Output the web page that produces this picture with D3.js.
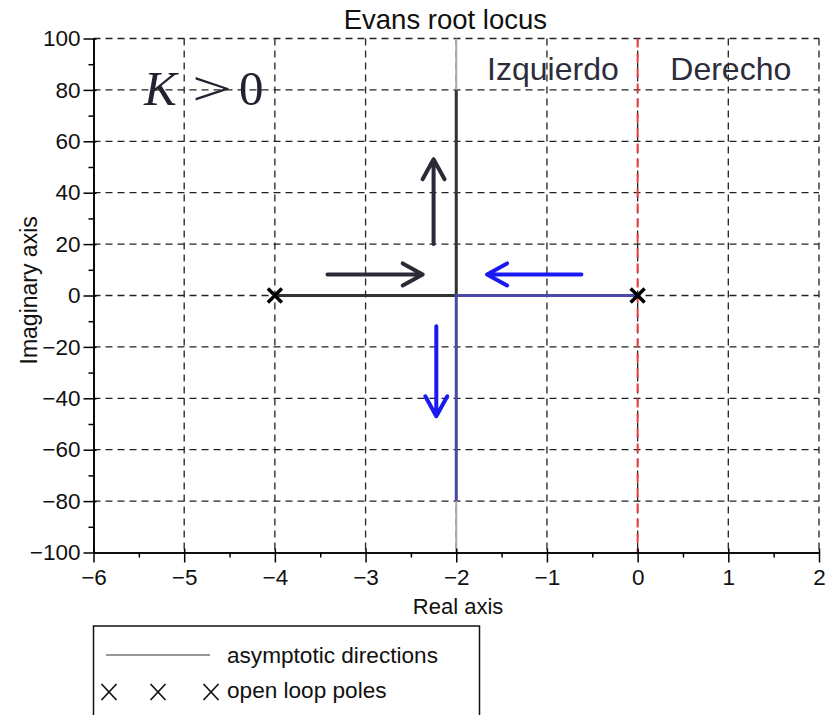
<!DOCTYPE html>
<html><head><meta charset="utf-8">
<script src="https://cdn.jsdelivr.net/npm/d3@7"></script>
<style>body{margin:0;background:#fff;} svg{display:block;font-family:"Liberation Sans",Arial,sans-serif;}</style>
</head><body>
<svg id="chart" width="836" height="715"></svg>
<script>
// ---- data ----
const xDomain = [-6, 2];
const yDomain = [-100, 100];
const xMajorTicks = [-6, -5, -4, -3, -2, -1, 0, 1, 2];
const xMinorTicks = [-5.5, -4.5, -3.5, -2.5, -1.5, -0.5, 0.5, 1.5];
const yMajorTicks = [-100, -80, -60, -40, -20, 0, 20, 40, 60, 80, 100];
const yMinorTicks = [-90, -70, -50, -30, -10, 10, 30, 50, 70, 90];
const openLoopPoles = [[-4, 0], [0, 0]];
const asymptotes = [[[-2, 0], [-2, 100]], [[-2, 0], [-2, -100]]];
const branchBlack = [[-4, 0], [-2, 0], [-2, 80]];
const branchBlue = [[0, 0], [-2, 0], [-2, -80]];
const arrowsBlack = [[[-3.42, 8.2], [-2.37, 8.2]], [[-2.25, 20], [-2.25, 53]]];
const arrowsBlue = [[[-0.62, 8.2], [-1.66, 8.2]], [[-2.22, -12], [-2.22, -47]]];
const stabilityBoundary = 0;
const regionLabels = [{text: "Izquierdo", x: -1.66, y: 88}, {text: "Derecho", x: 0.36, y: 88}];
const titleText = "Evans root locus";
const xLabel = "Real axis";
const yLabel = "Imaginary axis";
const legendItems = ["asymptotic directions", "open loop poles"];

// ---- drawing ----
const svg = d3.select("#chart");
const x = d3.scaleLinear().domain(xDomain).range([93.5, 819]);
const y = d3.scaleLinear().domain(yDomain).range([552.5, 38.5]);
const line = d3.line().x(d => x(d[0])).y(d => y(d[1]));

// grid
const grid = svg.append("g").attr("stroke", "#222").attr("stroke-width", 1.3).attr("stroke-dasharray", "7,5");
grid.selectAll(".gx").data(xMajorTicks.filter(d => d > xDomain[0])).join("line")
  .attr("x1", d => x(d)).attr("x2", d => x(d)).attr("y1", y(100)).attr("y2", y(-100));
grid.selectAll(".gy").data(yMajorTicks.filter(d => d > yDomain[0])).join("line")
  .attr("y1", d => y(d)).attr("y2", d => y(d)).attr("x1", x(-6)).attr("x2", x(2));

// stability boundary
svg.append("line").attr("x1", x(stabilityBoundary)).attr("x2", x(stabilityBoundary))
  .attr("y1", y(100)).attr("y2", y(-100)).attr("stroke", "#ee3a3f").attr("stroke-width", 2)
  .attr("stroke-dasharray", "9,6");

// asymptotes
svg.selectAll(".asym").data(asymptotes).join("path").attr("d", line)
  .attr("fill", "none").attr("stroke", "#aaa").attr("stroke-width", 2);

// branches
svg.append("path").attr("d", line(branchBlack)).attr("fill", "none").attr("stroke", "#333").attr("stroke-width", 3);
svg.append("path").attr("d", line(branchBlue)).attr("fill", "none").attr("stroke", "#4a4aa6").attr("stroke-width", 3);

// poles
const xm = 7;
svg.selectAll(".pole").data(openLoopPoles).join("path")
  .attr("d", d => `M${x(d[0]) - xm},${y(d[1]) - xm}L${x(d[0]) + xm},${y(d[1]) + xm}M${x(d[0]) - xm},${y(d[1]) + xm}L${x(d[0]) + xm},${y(d[1]) - xm}`)
  .attr("stroke", "#000").attr("stroke-width", 3.5);

// arrows
function drawArrows(data, color) {
  data.forEach(a => {
    const x1 = x(a[0][0]), y1 = y(a[0][1]), x2 = x(a[1][0]), y2 = y(a[1][1]);
    const ang = Math.atan2(y2 - y1, x2 - x1);
    const back = 20, side = 11;
    const ux = Math.cos(ang), uy = Math.sin(ang);
    const bx = x2 - ux * back, by = y2 - uy * back;
    const hx = -uy * side, hy = ux * side;
    svg.append("path")
      .attr("d", `M${x1},${y1}L${x2},${y2}M${bx + hx},${by + hy}L${x2},${y2}L${bx - hx},${by - hy}`)
      .attr("fill", "none").attr("stroke", color).attr("stroke-width", 4)
      .attr("stroke-linecap", "round").attr("stroke-linejoin", "round");
  });
}
drawArrows(arrowsBlack, "#2a2a38");
drawArrows(arrowsBlue, "#1a1af0");

// axes
const xAxis = svg.append("g").attr("transform", `translate(0,${y(-100)})`)
  .call(d3.axisBottom(x).tickValues(xMajorTicks).tickSize(10).tickSizeOuter(0).tickPadding(7).tickFormat(d3.format("d")));
const xMinor = svg.append("g").attr("transform", `translate(0,${y(-100)})`)
  .call(d3.axisBottom(x).tickValues(xMinorTicks).tickSize(5).tickSizeOuter(0).tickFormat(""));
const yAxis = svg.append("g").attr("transform", `translate(${x(-6)},0)`)
  .call(d3.axisLeft(y).tickValues(yMajorTicks).tickSize(10).tickSizeOuter(0).tickPadding(3).tickFormat(d3.format("d")));
const yMinor = svg.append("g").attr("transform", `translate(${x(-6)},0)`)
  .call(d3.axisLeft(y).tickValues(yMinorTicks).tickSize(5).tickSizeOuter(0).tickFormat(""));
[xAxis, xMinor, yAxis, yMinor].forEach(g => {
  g.selectAll("path.domain").attr("stroke", "#000").attr("stroke-width", 1.6);
  g.selectAll(".tick line").attr("stroke", "#000").attr("stroke-width", 1.5);
  g.selectAll("text").attr("font-family", "Liberation Sans, Arial, sans-serif").attr("font-size", 22.5).attr("fill", "#111");
});
xAxis.selectAll(".tick line").attr("y1", -4);
yAxis.selectAll(".tick line").attr("x1", 3);

// titles
svg.append("text").attr("x", x(-2.12)).attr("y", 29).attr("text-anchor", "middle")
  .attr("font-size", 27.5).attr("fill", "#111").text(titleText);
svg.append("text").attr("x", x(-1.98)).attr("y", 614).attr("text-anchor", "middle")
  .attr("font-size", 22).attr("fill", "#111").text(xLabel);
svg.append("text").attr("transform", `translate(37,${y(2)}) rotate(-90)`).attr("text-anchor", "middle")
  .attr("font-size", 23).attr("fill", "#111").text(yLabel);

// region labels
svg.selectAll(".reg").data(regionLabels).join("text")
  .attr("x", d => x(d.x)).attr("y", d => y(d.y) + 11).attr("font-size", 32).attr("fill", "#2d2d3a")
  .text(d => d.text);

// K > 0
const kg = svg.append("g").attr("font-family", "Liberation Serif, DejaVu Serif, serif").attr("fill", "#222230");
kg.append("text").attr("x", 144).attr("y", 105).attr("font-size", 49).attr("font-style", "italic").text("K");
kg.append("text").attr("transform", "translate(192,105) scale(1.45,1)").attr("font-size", 49).text(">");
kg.append("text").attr("x", 239).attr("y", 105).attr("font-size", 49).text("0");

// legend
const lg = svg.append("g");
lg.append("rect").attr("x", 93.5).attr("y", 626).attr("width", 386).attr("height", 120)
  .attr("fill", "#fff").attr("stroke", "#111").attr("stroke-width", 1.5);
lg.append("line").attr("x1", 106).attr("x2", 210).attr("y1", 655).attr("y2", 655).attr("stroke", "#999").attr("stroke-width", 2);
lg.append("text").attr("x", 227).attr("y", 663).attr("font-size", 22.6).attr("fill", "#111").text(legendItems[0]);
const lgx = [109, 158, 211];
lg.selectAll(".lx").data(lgx).join("path")
  .attr("d", d => `M${d - 7.5},${684}L${d + 7.5},${700}M${d - 7.5},${700}L${d + 7.5},${684}`)
  .attr("stroke", "#111").attr("stroke-width", 1.7);
lg.append("text").attr("x", 227).attr("y", 698).attr("font-size", 22.6).attr("fill", "#111").text(legendItems[1]);
</script>
</body></html>
